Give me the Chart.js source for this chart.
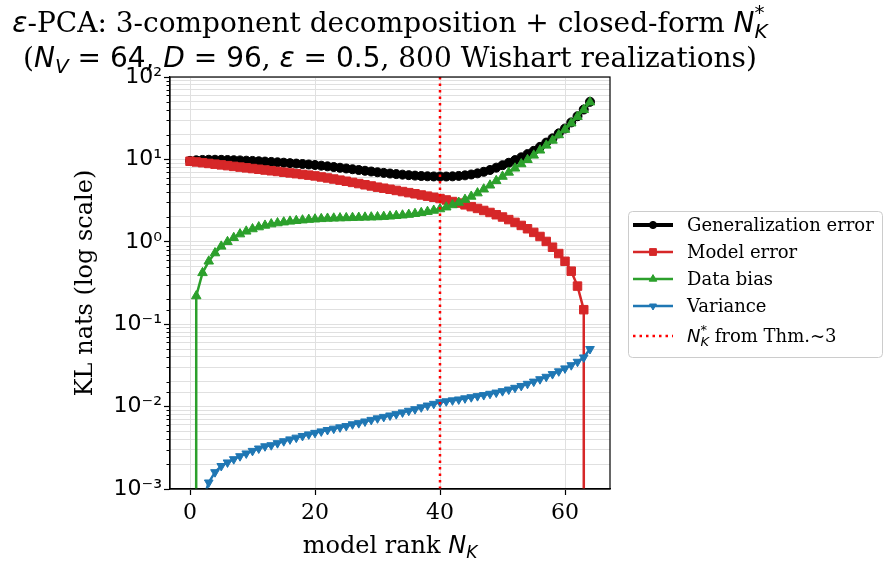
<!DOCTYPE html>
<html>
<head>
<meta charset="utf-8">
<script src="https://cdn.jsdelivr.net/npm/chart.js@4.4.1/dist/chart.umd.min.js"></script>
<style>
    html, body { margin: 0; padding: 0; background: #fff; }
    #wrap { width: 889px; height: 562px; }
</style>
</head>
<body>
<div id="wrap"><canvas id="chart" width="889" height="562"></canvas></div>
<script>
// model rank N_K, 0..64
const ranks = Array.from({ length: 65 }, (_, i) => i);

const genError = [
    9.6, 9.75, 9.85, 9.9, 9.9, 9.88, 9.83, 9.78, 9.72, 9.65,
    9.58, 9.5, 9.41, 9.32, 9.22, 9.12, 9.01, 8.9, 8.79, 8.67,
    8.55, 8.39, 8.24, 8.08, 7.92, 7.76, 7.6, 7.44, 7.28, 7.13,
    6.98, 6.86, 6.74, 6.63, 6.53, 6.44, 6.36, 6.29, 6.24, 6.21,
    6.2, 6.2, 6.23, 6.3, 6.4, 6.56, 6.77, 7.07, 7.44, 7.94,
    8.5, 9.1, 9.8, 10.6, 11.6, 12.7, 14.2, 16.0, 18.0, 20.7,
    23.7, 28.1, 33.4, 40.3, 50.0
];
const modelError = [
    9.5, 9.31, 9.12, 8.93, 8.75, 8.58, 8.4, 8.23, 8.07, 7.9,
    7.74, 7.59, 7.43, 7.28, 7.14, 6.99, 6.85, 6.71, 6.57, 6.44,
    6.3, 6.12, 5.95, 5.78, 5.6, 5.43, 5.26, 5.09, 4.92, 4.76,
    4.6, 4.47, 4.34, 4.2, 4.07, 3.95, 3.83, 3.7, 3.58, 3.47,
    3.35, 3.22, 3.08, 2.95, 2.81, 2.67, 2.54, 2.4, 2.27, 2.13,
    2.0, 1.86, 1.72, 1.58, 1.44, 1.3, 1.16, 1.01, 0.86, 0.72,
    0.58, 0.44, 0.29, 0.15, 0
];
const dataBias = [
    0, 0.22, 0.42, 0.58, 0.73, 0.88, 1.0, 1.12, 1.24, 1.34,
    1.43, 1.51, 1.58, 1.64, 1.69, 1.73, 1.77, 1.8, 1.83, 1.86,
    1.88, 1.9, 1.92, 1.93, 1.94, 1.95, 1.96, 1.97, 1.98, 1.99,
    2.0, 2.02, 2.04, 2.07, 2.1, 2.14, 2.19, 2.25, 2.32, 2.4,
    2.5, 2.63, 2.8, 3.0, 3.25, 3.55, 3.9, 4.35, 4.85, 5.5,
    6.2, 6.95, 7.8, 8.8, 9.9, 11.2, 12.9, 14.8, 17.0, 19.8,
    23.0, 27.5, 33.0, 40.0, 49.5
];
const variance = [
    0, 0.0002, 0.0007, 0.0012, 0.0016, 0.0019, 0.0021, 0.0023, 0.0025, 0.0027,
    0.0029, 0.0031, 0.0033, 0.0034, 0.0036, 0.0038, 0.0040, 0.0042, 0.0044, 0.0046,
    0.0048, 0.0050, 0.0052, 0.0054, 0.0056, 0.0058, 0.0061, 0.0063, 0.0066, 0.0069,
    0.0072, 0.0075, 0.0078, 0.0081, 0.0085, 0.0089, 0.0093, 0.0098, 0.0103, 0.0108,
    0.0113, 0.0116, 0.0119, 0.0122, 0.0126, 0.0130, 0.0134, 0.0138, 0.0143, 0.0148,
    0.0154, 0.0161, 0.0169, 0.0178, 0.0189, 0.0201, 0.0215, 0.0230, 0.0248, 0.0268,
    0.0291, 0.0318, 0.0350, 0.0395, 0.0500
];
const nkStar = 40;

const xTicks = [0, 20, 40, 60];
const yTickLabels = { '-3': '10⁻³', '-2': '10⁻²', '-1': '10⁻¹', '0': '10⁰', '1': '10¹', '2': '10²' };
const yMin = 1e-3, yMax = 1e2;

const SERIF = '"DejaVu Serif", "Liberation Serif", serif';
const SANS = '"DejaVu Sans", sans-serif';

// like matplotlib's log axis: zeros are pushed far below the axis instead of dropped
const LOG_FLOOR = 1e-300;
const pts = arr => ranks.map((r, i) => ({ x: r, y: arr[i] > 0 ? arr[i] : LOG_FLOOR }));

function isDecade(v) {
    const e = Math.log10(v);
    return Math.abs(e - Math.round(e)) < 1e-6;
}

// draws text made of parts with different fonts (sub/superscripts)
function drawParts(ctx, parts, x, baseline, align) {
    let cursor = 0, lastStart = 0;
    const placed = parts.map(p => {
        ctx.font = p.font;
        const w = ctx.measureText(p.text).width;
        const start = p.stack ? lastStart : cursor;
        lastStart = start;
        cursor = Math.max(cursor, start + w);
        return { p, start };
    });
    let x0 = x;
    if (align === 'center') x0 = x - cursor / 2;
    if (align === 'right') x0 = x - cursor;
    ctx.textAlign = 'left';
    ctx.textBaseline = 'alphabetic';
    placed.forEach(({ p, start }) => {
        ctx.font = p.font;
        ctx.fillText(p.text, x0 + start + (p.dx || 0), baseline + (p.dy || 0));
    });
}

function labelParts(label) {
    if (label.startsWith('N_K^*')) {
        return [
            { text: 'N', font: `italic 18px ${SANS}` },
            { text: 'K', font: `italic 13px ${SANS}`, dy: 4 },
            { text: '*', font: `13px ${SANS}`, dy: -8, stack: true },
            { text: label.slice(5), font: `18px ${SERIF}` }
        ];
    }
    return [{ text: label, font: `18px ${SERIF}` }];
}

const overlay = {
    id: 'overlay',
    afterDraw(chart) {
        const { ctx, chartArea: a } = chart;
        ctx.save();

        // frame on all four sides
        ctx.strokeStyle = '#000';
        ctx.lineWidth = 1.2;
        ctx.strokeRect(a.left, a.top, a.right - a.left, a.bottom - a.top);

        // minor y ticks (shorter)
        const ys = chart.scales.y;
        ctx.lineWidth = 1;
        ys.ticks.forEach(t => {
            if (isDecade(t.value)) return;
            const py = Math.round(ys.getPixelForValue(t.value)) + 0.5;
            ctx.beginPath();
            ctx.moveTo(a.left - 3.5, py);
            ctx.lineTo(a.left, py);
            ctx.stroke();
        });

        ctx.fillStyle = '#000';
        const cx = (a.left + a.right) / 2;

        // title
        drawParts(ctx, [
            { text: 'ε', font: `italic 28px ${SANS}` },
            { text: '-PCA: 3-component decomposition + closed-form ', font: `28px ${SERIF}` },
            { text: 'N', font: `italic 28px ${SANS}` },
            { text: 'K', font: `italic 20px ${SANS}`, dy: 6 },
            { text: '*', font: `20px ${SANS}`, dy: -13, stack: true }
        ], cx, 32, 'center');
        drawParts(ctx, [
            { text: '(', font: `28px ${SERIF}` },
            { text: 'N', font: `italic 28px ${SANS}` },
            { text: 'V', font: `italic 20px ${SANS}`, dy: 6 },
            { text: ' = 64', font: `28px ${SANS}` },
            { text: ', ', font: `28px ${SERIF}` },
            { text: 'D', font: `italic 28px ${SANS}` },
            { text: ' = 96', font: `28px ${SANS}` },
            { text: ', ', font: `28px ${SERIF}` },
            { text: 'ε', font: `italic 28px ${SANS}` },
            { text: ' = 0.5', font: `28px ${SANS}` },
            { text: ', 800 Wishart realizations)', font: `28px ${SERIF}` }
        ], cx, 67, 'center');

        // x axis label
        drawParts(ctx, [
            { text: 'model rank ', font: `24px ${SERIF}` },
            { text: 'N', font: `italic 24px ${SANS}` },
            { text: 'K', font: `italic 17px ${SANS}`, dy: 5 }
        ], cx, 553, 'center');

        // legend
        const lx = 628.5, ly = 211.5, lw = 254, lh = 146;
        ctx.beginPath();
        ctx.roundRect(lx, ly, lw, lh, 4);
        ctx.fillStyle = 'rgba(255,255,255,0.8)';
        ctx.fill();
        ctx.strokeStyle = '#cccccc';
        ctx.lineWidth = 1;
        ctx.stroke();

        const rows = [225, 252, 279, 306, 336];
        chart.data.datasets.forEach((ds, i) => {
            const y = rows[i];
            ctx.save();
            ctx.strokeStyle = ds.borderColor;
            ctx.fillStyle = ds.borderColor;
            ctx.lineWidth = ds.borderWidth;
            ctx.setLineDash(ds.borderDash || []);
            ctx.beginPath();
            ctx.moveTo(633, y);
            ctx.lineTo(673, y);
            ctx.stroke();
            ctx.setLineDash([]);
            if (ds.pointRadius > 0) {
                ctx.lineWidth = 1;
                Chart.helpers.drawPoint(ctx, {
                    pointStyle: ds.pointStyle,
                    rotation: ds.pointRotation || 0,
                    radius: ds.pointRadius * 0.8,
                    borderWidth: 1
                }, 653, y);
            }
            ctx.fillStyle = '#000';
            drawParts(ctx, labelParts(ds.label), 687, y + 6, 'left');
            ctx.restore();
        });

        ctx.restore();
    }
};

function series(label, data, color, style, extra) {
    return Object.assign({
        label,
        data: pts(data),
        borderColor: color,
        backgroundColor: color,
        pointBackgroundColor: color,
        pointBorderColor: color,
        pointBorderWidth: 1,
        pointStyle: style,
        borderWidth: 2.5,
        tension: 0
    }, extra);
}

new Chart(document.getElementById('chart'), {
    type: 'line',
    data: {
        datasets: [
            series('Generalization error', genError, '#000000', 'circle', { borderWidth: 4, pointRadius: 4.5, order: 5 }),
            series('Model error', modelError, '#d62728', 'rect', { pointRadius: 6, order: 4 }),
            series('Data bias', dataBias, '#2ca02c', 'triangle', { pointRadius: 5.5, order: 3 }),
            series('Variance', variance, '#1f77b4', 'triangle', { pointRadius: 5, pointRotation: 180, order: 2 }),
            {
                label: 'N_K^* from Thm.~3',
                data: [{ x: nkStar, y: yMin }, { x: nkStar, y: yMax }],
                borderColor: '#ff0000',
                borderWidth: 2.5,
                borderDash: [2.5, 4],
                pointRadius: 0,
                order: 0
            }
        ]
    },
    options: {
        responsive: false,
        animation: false,
        layout: { padding: { left: 71, right: 279, top: 77, bottom: 0 } },
        plugins: {
            legend: { display: false },
            title: { display: false },
            tooltip: { enabled: false }
        },
        scales: {
            x: {
                type: 'linear',
                min: -3.2,
                max: 67.2,
                afterBuildTicks: s => { s.ticks = xTicks.map(v => ({ value: v })); },
                afterFit: s => { s.height = 73; },
                grid: { color: '#e0e0e0', lineWidth: 1, tickLength: 6, tickColor: '#000', tickWidth: 1.2 },
                border: { display: true, color: '#000', width: 1.2 },
                ticks: { font: { family: SERIF, size: 22 }, color: '#000', padding: 5, maxRotation: 0 }
            },
            y: {
                type: 'logarithmic',
                min: yMin,
                max: yMax,
                afterFit: s => { s.width = 99; },
                grid: {
                    color: '#e0e0e0',
                    lineWidth: 1,
                    tickLength: 6,
                    tickWidth: 1.2,
                    tickColor: c => isDecade(c.tick.value) ? '#000' : 'rgba(0,0,0,0)'
                },
                border: { display: true, color: '#000', width: 1.2 },
                ticks: {
                    autoSkip: false,
                    font: { family: SANS, size: 22 },
                    color: '#000',
                    padding: 2,
                    callback: v => isDecade(v) ? yTickLabels[String(Math.round(Math.log10(v)))] : ''
                },
                title: {
                    display: true,
                    text: 'KL nats (log scale)',
                    font: { family: SERIF, size: 24 },
                    color: '#000',
                    padding: 0
                }
            }
        }
    },
    plugins: [overlay]
});
</script>
</body>
</html>
